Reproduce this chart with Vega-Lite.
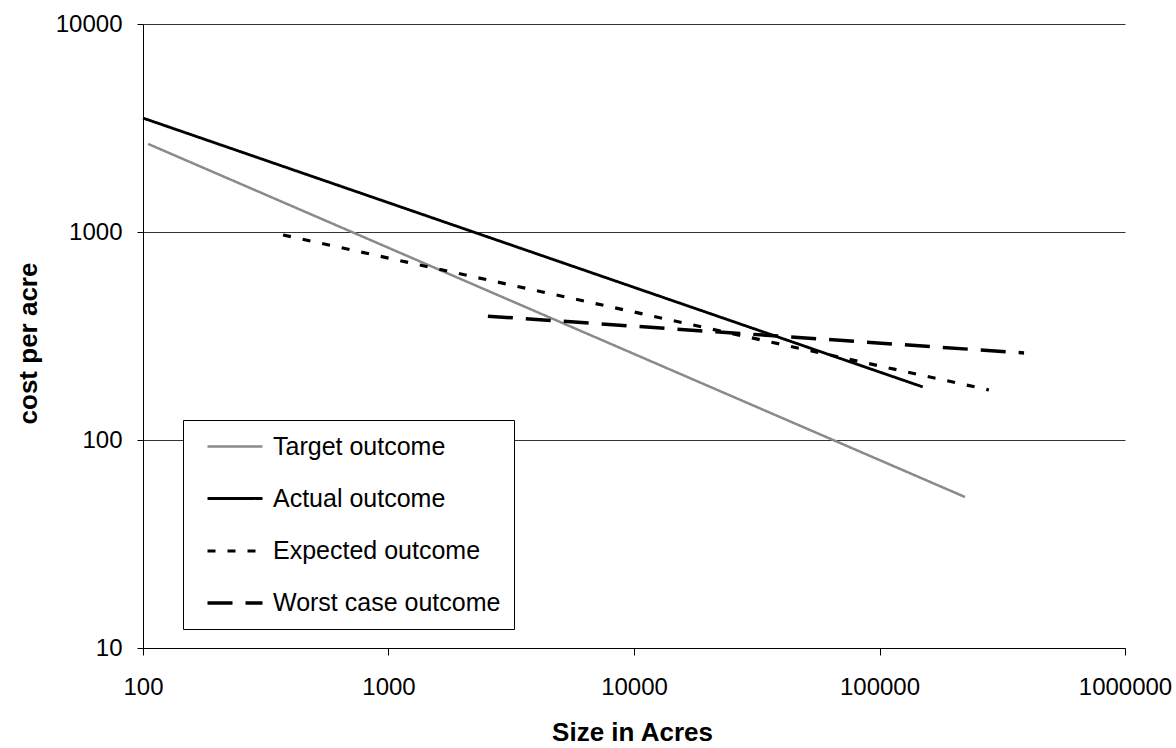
{
  "$schema": "https://vega.github.io/schema/vega-lite/v6.json",
  "width": 982,
  "height": 624,
  "autosize": {"type": "none"},
  "padding": {"left": 143, "top": 24, "right": 51, "bottom": 100},
  "background": "white",
  "config": {
    "view": {"stroke": null},
    "font": "Liberation Sans",
    "legend": {
      "orient": "none",
      "legendX": 40,
      "legendY": 396,
      "strokeColor": "black",
      "fillColor": "white",
      "padding": 13,
      "symbolType": "M-2.2917,0H2.2917",
      "symbolSize": 576,
      "symbolOffset": 25,
      "labelOffset": 24,
      "labelFontSize": 25,
      "labelColor": "black",
      "labelFont": "Liberation Sans",
      "rowPadding": 25,
      "labelLimit": 400
    }
  },
  "data": {
    "values": [
      {"series": "Target outcome", "acres": 105, "cost": 2650},
      {"series": "Target outcome", "acres": 223000, "cost": 53.2},
      {"series": "Actual outcome", "acres": 100, "cost": 3530},
      {"series": "Actual outcome", "acres": 150000, "cost": 180},
      {"series": "Expected outcome", "acres": 372, "cost": 968},
      {"series": "Expected outcome", "acres": 279000, "cost": 174},
      {"series": "Worst case outcome", "acres": 2540, "cost": 394},
      {"series": "Worst case outcome", "acres": 388000, "cost": 262}
    ]
  },
  "mark": {"type": "line"},
  "encoding": {
    "x": {
      "field": "acres",
      "type": "quantitative",
      "scale": {"type": "log", "domain": [100, 1000000]},
      "axis": {
        "values": [100, 1000, 10000, 100000, 1000000],
        "format": "d",
        "grid": false,
        "domainColor": "black",
        "tickColor": "black",
        "tickSize": 7,
        "labelPadding": 20,
        "labelFontSize": 24,
        "labelColor": "black",
        "labelFlush": false,
        "labelOverlap": false,
        "title": "Size in Acres",
        "titleFontSize": 26,
        "titleFontWeight": "bold",
        "titleColor": "black",
        "titleX": 489,
        "titleY": 84,
        "titleBaseline": "middle",
        "titleAlign": "center"
      }
    },
    "y": {
      "field": "cost",
      "type": "quantitative",
      "scale": {"type": "log", "domain": [10, 10000]},
      "axis": {
        "values": [10, 100, 1000, 10000],
        "format": "d",
        "grid": true,
        "gridColor": "#333333",
        "gridWidth": 1,
        "domainColor": "black",
        "tickColor": "black",
        "tickSize": 6,
        "labelPadding": 15,
        "labelFontSize": 24,
        "labelColor": "black",
        "labelFlush": false,
        "labelOverlap": false,
        "title": "cost per acre",
        "titleFontSize": 26,
        "titleFontWeight": "bold",
        "titleColor": "black",
        "titleAngle": -90,
        "titleX": -115,
        "titleY": 319,
        "titleBaseline": "middle",
        "titleAlign": "center"
      }
    },
    "color": {
      "field": "series",
      "type": "nominal",
      "title": null,
      "scale": {
        "domain": ["Target outcome", "Actual outcome", "Expected outcome", "Worst case outcome"],
        "range": ["#8a8a8a", "#000000", "#000000", "#000000"]
      }
    },
    "strokeDash": {
      "field": "series",
      "type": "nominal",
      "title": null,
      "scale": {
        "domain": ["Target outcome", "Actual outcome", "Expected outcome", "Worst case outcome"],
        "range": [[1, 0], [1, 0], [8, 12], [25, 13]]
      }
    },
    "strokeWidth": {
      "field": "series",
      "type": "nominal",
      "title": null,
      "scale": {
        "domain": ["Target outcome", "Actual outcome", "Expected outcome", "Worst case outcome"],
        "range": [2.5, 3.5, 3.5, 3.5]
      }
    }
  }
}
